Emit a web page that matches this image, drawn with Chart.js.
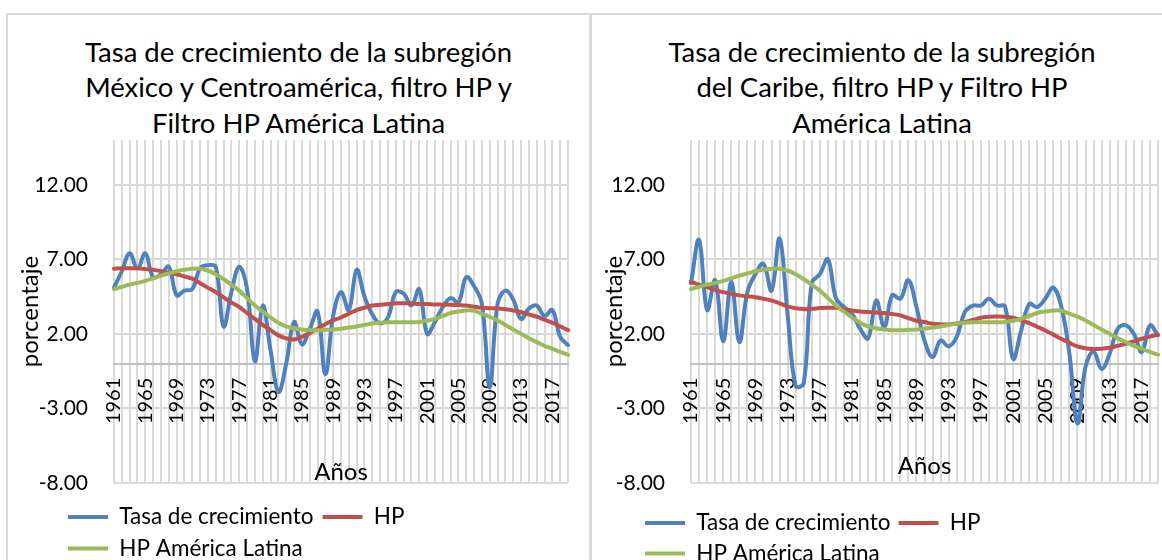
<!DOCTYPE html>
<html lang="es">
<head>
<meta charset="utf-8">
<title>Tasa de crecimiento de las subregiones</title>
<script src="https://cdn.jsdelivr.net/npm/chart.js@4.4.1/dist/chart.umd.min.js"></script>
<style>
  html, body { margin: 0; padding: 0; background: #fff; overflow: hidden; }
  body { width: 1162px; height: 560px; position: relative; font-family: Lato, "Open Sans", sans-serif; }
  .frame { position: absolute; top: 13px; height: 700px; box-sizing: border-box; border: 2px solid #d9d9d9; }
  .title { position: absolute; top: 33.5px; text-align: center; font-size: 27.5px; line-height: 35.5px; color: #000; white-space: nowrap; }
  canvas { position: absolute; top: 15px; }
</style>
</head>
<body>
<div class="frame" style="left:6px;width:585px"></div>
<div class="frame" style="left:590px;width:600px"></div>
<div class="title" style="left:7px;width:583px">Tasa de crecimiento de la subregión<br>México y Centroamérica, filtro HP y<br>Filtro HP América Latina</div>
<div class="title" style="left:590px;width:584px">Tasa de crecimiento de la subregión<br>del Caribe, filtro HP y Filtro HP<br>América Latina</div>
<canvas id="chartMex" width="580" height="545" style="left:8px"></canvas>
<canvas id="chartCar" width="570" height="545" style="left:592px"></canvas>
<script>
const years = ['1961', '1962', '1963', '1964', '1965', '1966', '1967', '1968', '1969', '1970',
  '1971', '1972', '1973', '1974', '1975', '1976', '1977', '1978', '1979', '1980',
  '1981', '1982', '1983', '1984', '1985', '1986', '1987', '1988', '1989', '1990',
  '1991', '1992', '1993', '1994', '1995', '1996', '1997', '1998', '1999', '2000',
  '2001', '2002', '2003', '2004', '2005', '2006', '2007', '2008', '2009', '2010',
  '2011', '2012', '2013', '2014', '2015', '2016', '2017', '2018', '2019'];

const yTicks = [-8, -3, 2, 7, 12];

// México y Centroamérica
const mexGrowth = [5.1, 6.2, 7.4, 6.4, 7.4, 5.8, 6.0, 6.5, 4.6, 4.9,
  5.0, 6.4, 6.6, 6.5, 2.5, 4.8, 6.5, 5.0, 0.15, 3.9,
  0.9, -1.9, 0.0, 2.8, 1.3, 2.3, 3.5, -0.7, 3.2, 4.8,
  3.6, 6.3, 4.5, 3.3, 2.7, 3.1, 4.8, 4.7, 3.9, 5.0,
  2.0, 2.8, 3.8, 4.4, 4.1, 5.8, 5.2, 4.0, -1.6, 4.0,
  4.9, 4.3, 3.0, 3.7, 3.9, 3.2, 3.6, 1.8, 1.25];

const mexHP = [6.37, 6.4, 6.4, 6.4, 6.35, 6.3, 6.2, 6.1, 6.0, 5.85,
  5.7, 5.4, 5.1, 4.8, 4.45, 4.1, 3.8, 3.4, 3.0, 2.6,
  2.25, 1.9, 1.7, 1.63, 1.8, 2.05, 2.35, 2.65, 2.9, 3.1,
  3.35, 3.6, 3.75, 3.9, 3.95, 4.0, 4.05, 4.05, 4.05, 4.0,
  4.0, 3.97, 3.96, 3.95, 3.93, 3.9, 3.82, 3.75, 3.72, 3.7,
  3.65, 3.57, 3.45, 3.3, 3.15, 2.95, 2.75, 2.5, 2.25];

// Caribe
const carGrowth = [5.4, 8.3, 3.6, 5.6, 1.5, 5.5, 1.45, 4.8, 6.0, 6.7,
  4.9, 8.4, 3.3, -1.5, -1.3, 5.4, 6.0, 7.0, 4.4, 3.8,
  3.35, 2.35, 1.7, 4.25, 2.45, 4.6, 4.35, 5.6, 3.8, 1.55,
  0.45, 1.56, 1.16, 1.8, 3.46, 3.9, 3.9, 4.35, 3.9, 3.85,
  0.33, 2.2, 4.0, 3.8, 4.35, 5.1, 3.8, 0.67, -4.0, -0.2,
  0.8, -0.35, 0.67, 2.35, 2.57, 2.0, 0.78, 2.57, 1.9];

const carHP = [5.5, 5.3, 5.13, 4.95, 4.8, 4.68, 4.58, 4.52, 4.46, 4.36,
  4.24, 4.05, 3.84, 3.72, 3.66, 3.68, 3.73, 3.75, 3.75, 3.65,
  3.57, 3.5, 3.46, 3.43, 3.4, 3.33, 3.24, 3.06, 2.88, 2.79,
  2.68, 2.64, 2.63, 2.7, 2.79, 2.93, 3.08, 3.14, 3.17, 3.15,
  3.08, 2.92, 2.72, 2.48, 2.23, 1.95, 1.67, 1.4, 1.16, 1.04,
  0.98, 1.0, 1.07, 1.2, 1.34, 1.5, 1.67, 1.82, 1.96];

// América Latina (same in both charts)
const latamHP = [5.0, 5.15, 5.3, 5.42, 5.55, 5.72, 5.9, 6.05, 6.2, 6.3,
  6.37, 6.37, 6.25, 6.0, 5.66, 5.3, 4.9, 4.4, 3.9, 3.5,
  3.1, 2.75, 2.5, 2.38, 2.3, 2.25, 2.25, 2.27, 2.3, 2.35,
  2.42, 2.5, 2.6, 2.7, 2.75, 2.78, 2.78, 2.78, 2.78, 2.8,
  2.88, 3.0, 3.2, 3.4, 3.5, 3.57, 3.55, 3.35, 3.15, 2.9,
  2.6, 2.3, 2.0, 1.7, 1.45, 1.2, 1.0, 0.8, 0.6];

const blue = '#4f81bd';
const red = '#c0504d';
const green = '#9bbb59';
const gridColor = '#d9d9d9';
const fontFamily = 'Lato, "Open Sans", sans-serif';

// moves the legend to where the reference has it
const legendShift = {
  id: 'legendShift',
  afterLayout(chart, args, opts) {
    const lg = chart.legend;
    const w = lg.right - lg.left;
    lg.left = opts.left;
    lg.right = opts.left + w;
    lg.top += opts.dy;
    lg.bottom += opts.dy;
  }
};

function makeChart(id, growth, hp, o) {
  return new Chart(document.getElementById(id), {
    type: 'line',
    data: {
      labels: years,
      datasets: [
        { label: 'Tasa de crecimiento', data: growth, borderColor: blue, backgroundColor: blue, order: 3 },
        { label: 'HP', data: hp, borderColor: red, backgroundColor: red, order: 2 },
        { label: 'HP América Latina', data: latamHP, borderColor: green, backgroundColor: green, order: 1 }
      ]
    },
    options: {
      responsive: false,
      animation: false,
      devicePixelRatio: 1,
      layout: { padding: { top: 125, left: 0, right: o.padRight, bottom: o.padBottom } },
      elements: {
        line: { borderWidth: 4, tension: 0.4, borderCapStyle: 'round', borderJoinStyle: 'round', fill: false },
        point: { radius: 0, hoverRadius: 0 }
      },
      scales: {
        x: {
          position: { y: 0 },
          offset: false,
          grid: { color: gridColor, lineWidth: 2, drawTicks: false },
          border: { color: '#bfbfbf', width: 2 },
          ticks: {
            autoSkip: false,
            minRotation: 90,
            maxRotation: 90,
            padding: 14,
            color: '#000',
            font: { family: fontFamily, size: 20 },
            callback: (v, i) => (i % 4 === 0 ? years[i] : '')
          },
          title: {
            display: true,
            text: 'Años',
            color: '#000',
            font: { family: fontFamily, size: 24 },
            padding: { top: o.xTitlePad, bottom: 0 }
          },
          afterFit: s => { s.paddingLeft = 0; s.paddingRight = 0; }
        },
        y: {
          min: -8,
          max: 15,
          afterBuildTicks: s => { s.ticks = yTicks.map(v => ({ value: v })); },
          afterFit: s => { s.width = o.yWidth; s.paddingTop = 0; s.paddingBottom = 0; },
          grid: { color: gridColor, lineWidth: 2, drawTicks: false },
          border: { display: false },
          ticks: {
            padding: 26,
            color: '#000',
            font: { family: fontFamily, size: 21 },
            callback: v => v.toFixed(2)
          },
          title: {
            display: true,
            text: 'porcentaje',
            color: '#000',
            font: { family: fontFamily, size: 24 },
            padding: { top: 8, bottom: 0 }
          }
        }
      },
      plugins: {
        tooltip: { enabled: false },
        legend: {
          position: 'bottom',
          align: 'start',
          fullSize: false,
          labels: {
            color: '#000',
            font: { family: fontFamily, size: 22.5 },
            boxWidth: 40,
            boxHeight: 4,
            padding: o.legendPad,
            generateLabels: chart => Chart.defaults.plugins.legend.labels.generateLabels(chart)
              .sort((a, b) => a.datasetIndex - b.datasetIndex)
              .map(item => Object.assign(item, { fillStyle: item.strokeStyle, lineWidth: 0 }))
          }
        },
        legendShift: { left: o.legendLeft, dy: o.legendDy }
      }
    },
    plugins: [legendShift]
  });
}

makeChart('chartMex', mexGrowth, mexHP, {
  padRight: 20, padBottom: 4, yWidth: 106, xTitlePad: 20,
  legendPad: 9, legendLeft: 51, legendDy: 13.75
});

makeChart('chartCar', carGrowth, carHP, {
  padRight: 4, padBottom: 6, yWidth: 99, xTitlePad: 14,
  legendPad: 8, legendLeft: 45, legendDy: 20.75
});
</script>
</body>
</html>
